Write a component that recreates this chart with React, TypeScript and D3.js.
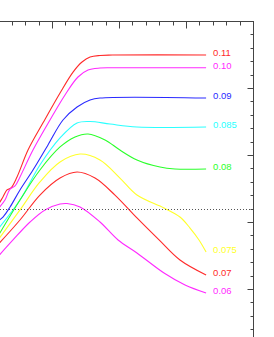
import React from "react";
import * as d3 from "d3";

// parameter labels for each curve
const levels = ["0.11", "0.10", "0.09", "0.085", "0.08", "0.075", "0.07", "0.06"];

// series values [x, y]
const s011: [number, number][] = [[-4.0, 6.3], [-3.66, 6.87], [-3.36, 7.39], [-3.06, 7.54], [-2.61, 8.36], [-1.79, 10.37], [-0.67, 12.4], [0.6, 14.63], [1.57, 16.19], [2.24, 16.94], [2.84, 17.31], [3.58, 17.43], [4.5, 17.46], [11.5, 17.46]];
const s010: [number, number][] = [[-4.0, 6.0], [-3.51, 6.64], [-3.13, 7.46], [-2.76, 7.69], [-2.39, 8.36], [-1.42, 10.37], [-0.15, 12.61], [0.97, 14.48], [1.94, 15.82], [2.69, 16.34], [3.58, 16.49], [4.5, 16.51], [11.5, 16.51]];
const s009: [number, number][] = [[-4.0, 5.1], [-3.66, 5.37], [-3.13, 6.12], [-2.39, 7.39], [-1.42, 8.88], [-0.3, 10.75], [0.82, 12.61], [1.87, 13.58], [2.84, 14.1], [3.58, 14.25], [11.5, 14.25]];
const s0085: [number, number][] = [[-4.0, 4.5], [-2.39, 6.64], [-0.9, 9.25], [0.6, 11.27], [1.87, 12.39], [2.84, 12.5], [4.33, 12.31], [6.34, 12.09], [11.5, 12.09]];
const s008: [number, number][] = [[-4.0, 4.0], [-2.39, 6.64], [-0.9, 8.88], [0.6, 10.6], [1.72, 11.35], [2.69, 11.57], [3.96, 11.12], [5.07, 10.37], [6.34, 9.63], [8.06, 9.1], [9.18, 8.96], [11.5, 8.96]];
const s0075: [number, number][] = [[-4.0, 3.7], [-2.39, 5.9], [-0.9, 7.99], [0.6, 9.48], [2.09, 10.07], [3.58, 9.63], [5.07, 8.28], [6.34, 7.01], [8.36, 6.04], [9.55, 5.37], [10.3, 4.55], [10.97, 3.66], [11.5, 2.76]];
const s007: [number, number][] = [[-4.0, 3.35], [-2.39, 5.15], [-0.9, 7.01], [0.6, 8.28], [1.87, 8.73], [3.21, 8.28], [4.7, 7.01], [6.34, 5.3], [7.99, 3.66], [9.55, 2.16], [11.5, 1.04]];
const s006: [number, number][] = [[-4.0, 2.45], [-2.91, 3.66], [-1.64, 5.0], [-0.52, 5.9], [0.6, 6.34], [1.12, 6.38], [2.09, 6.12], [3.58, 5.0], [4.93, 3.66], [6.34, 2.69], [8.36, 1.19], [9.93, 0.3], [11.5, -0.3]];

const seriesList = [s011, s010, s009, s0085, s008, s0075, s007, s006];
const palette = ["#ff2a2a", "#ff2aff", "#2a2aff", "#2affff", "#2aff2a", "#ffff2a", "#ff2a2a", "#ff2aff"];

const xDomain: [number, number] = [-5, 15];
const yDomain: [number, number] = [-5, 20];
const refLine = 6;

export default function App() {
  const W = 274;
  const H = 337;
  const x = d3.scaleLinear().domain(xDomain).range([-15, 253]);
  const y = d3.scaleLinear().domain(yDomain).range([356, 21]);
  const line = d3
    .line<[number, number]>()
    .x((d) => x(d[0]))
    .y((d) => y(d[1]))
    .curve(d3.curveCatmullRom.alpha(0.5));

  const xt = d3.range(xDomain[0], xDomain[1] + 1, 1);
  const yt = d3.range(yDomain[0], yDomain[1] + 1, 1);
  const px = (v: number) => Math.round(v) + 0.5;
  const axisColor = "#444";

  return (
    <svg
      width={W}
      height={H}
      style={{ position: "absolute", left: 0, top: 0, background: "#fff" }}
    >
      {/* curves */}
      {seriesList.map((s, i) => (
        <path key={i} d={line(s) || ""} fill="none" stroke={palette[i]} strokeWidth={1.1} />
      ))}
      {/* dotted reference line */}
      <line
        x1={x(xDomain[0])}
        x2={x(xDomain[1])}
        y1={px(y(refLine))}
        y2={px(y(refLine))}
        stroke="#555"
        strokeWidth={1}
        strokeDasharray="1,2"
      />
      {/* labels */}
      {seriesList.map((s, i) => {
        const last = s[s.length - 1];
        return (
          <text
            key={"l" + i}
            x={x(last[0]) + 7}
            y={y(last[1]) + 1}
            fill={palette[i]}
            fontFamily="Liberation Sans, Arial, sans-serif"
            fontSize={9.5}
          >
            {levels[i]}
          </text>
        );
      })}
      {/* frame */}
      <rect
        x={px(x(xDomain[0]))}
        y={px(y(yDomain[1]))}
        width={Math.round(x(xDomain[1])) - Math.round(x(xDomain[0]))}
        height={Math.round(y(yDomain[0])) - Math.round(y(yDomain[1]))}
        fill="none"
        stroke={axisColor}
        strokeWidth={1}
      />
      {/* top ticks */}
      {xt.map((t) => {
        const major = t % 5 === 0;
        return (
          <line
            key={"xt" + t}
            x1={px(x(t))}
            x2={px(x(t))}
            y1={px(y(yDomain[1]))}
            y2={px(y(yDomain[1])) + (major ? 7 : 4)}
            stroke={axisColor}
            strokeWidth={1}
          />
        );
      })}
      {/* right ticks */}
      {yt.map((t) => {
        const major = t % 5 === 0;
        return (
          <line
            key={"yt" + t}
            x1={px(x(xDomain[1]))}
            x2={px(x(xDomain[1])) - (major ? 6 : 3)}
            y1={px(y(t))}
            y2={px(y(t))}
            stroke={axisColor}
            strokeWidth={1}
          />
        );
      })}
    </svg>
  );
}
